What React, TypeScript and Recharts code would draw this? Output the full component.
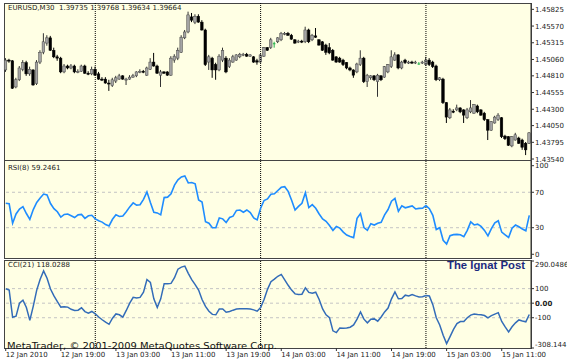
import React from 'react';
import { ComposedChart, Bar, Line, XAxis, YAxis, ReferenceLine } from 'recharts';

// EURUSD M30, 12 Jan 11:00 .. 15 Jan 15:00 (153 bars)
const opens = [
  1.4490, 1.4505, 1.4504, 1.4464, 1.4475, 1.4491, 1.4501, 1.4484, 1.4490, 1.4469,
  1.4502, 1.4517, 1.4531, 1.4539, 1.4520, 1.4510, 1.4508, 1.4487, 1.4496, 1.4493,
  1.4496, 1.4487, 1.4488, 1.4496, 1.4485, 1.4484, 1.4491, 1.4484, 1.4476, 1.4476,
  1.4470, 1.4466, 1.4473, 1.4476, 1.4481, 1.4475, 1.4476, 1.4479, 1.4481, 1.4487,
  1.4488, 1.4482, 1.4491, 1.4502, 1.4496, 1.4482, 1.4487, 1.4487, 1.4482, 1.4505,
  1.4508, 1.4517, 1.4539, 1.4548, 1.4571, 1.4563, 1.4572, 1.4563, 1.4551, 1.4502,
  1.4508, 1.4498, 1.4490, 1.4505, 1.4508, 1.4495, 1.4502, 1.4505, 1.4510, 1.4513,
  1.4514, 1.4511, 1.4510, 1.4504, 1.4502, 1.4511, 1.4524, 1.4524, 1.4530, 1.4533,
  1.4536, 1.4545, 1.4546, 1.4543, 1.4536, 1.4533, 1.4534, 1.4533, 1.4551, 1.4536,
  1.4542, 1.4536, 1.4533, 1.4528, 1.4524, 1.4520, 1.4510, 1.4508, 1.4505, 1.4501,
  1.4493, 1.4490, 1.4487, 1.4498, 1.4508, 1.4472, 1.4478, 1.4481, 1.4472, 1.4481,
  1.4479, 1.4487, 1.4495, 1.4505, 1.4513, 1.4493, 1.4505, 1.4501, 1.4502, 1.4501,
  1.4499, 1.4501, 1.4498, 1.4505, 1.4502, 1.4496, 1.4475, 1.4476, 1.4440, 1.4417,
  1.4427, 1.4429, 1.4432, 1.4429, 1.4417, 1.4426, 1.4424, 1.4435, 1.4429, 1.4424,
  1.4414, 1.4398, 1.4409, 1.4414, 1.4417, 1.4389, 1.4388, 1.4374, 1.4383, 1.4386,
  1.4383, 1.4378, 1.4378,
];
const highs = [
  1.4508, 1.4507, 1.4505, 1.4478, 1.4496, 1.4505, 1.4504, 1.4495, 1.4491, 1.4505,
  1.4520, 1.4546, 1.4543, 1.4542, 1.4524, 1.4513, 1.4510, 1.4499, 1.4498, 1.4499,
  1.4498, 1.4491, 1.4498, 1.4498, 1.4488, 1.4495, 1.4495, 1.4487, 1.4479, 1.4479,
  1.4475, 1.4478, 1.4481, 1.4484, 1.4482, 1.4478, 1.4482, 1.4484, 1.4488, 1.4491,
  1.4490, 1.4495, 1.4508, 1.4516, 1.4498, 1.4490, 1.4488, 1.4488, 1.4511, 1.4514,
  1.4524, 1.4543, 1.4551, 1.4579, 1.4577, 1.4575, 1.4575, 1.4566, 1.4553, 1.4513,
  1.4510, 1.4501, 1.4514, 1.4524, 1.4511, 1.4508, 1.4513, 1.4514, 1.4516, 1.4516,
  1.4516, 1.4514, 1.4511, 1.4507, 1.4514, 1.4525, 1.4525, 1.4539, 1.4533, 1.4540,
  1.4548, 1.4548, 1.4548, 1.4545, 1.4537, 1.4536, 1.4536, 1.4556, 1.4553, 1.4545,
  1.4554, 1.4537, 1.4534, 1.4530, 1.4531, 1.4522, 1.4511, 1.4510, 1.4507, 1.4502,
  1.4495, 1.4491, 1.4501, 1.4520, 1.4510, 1.4484, 1.4482, 1.4482, 1.4484, 1.4482,
  1.4496, 1.4499, 1.4520, 1.4517, 1.4514, 1.4504, 1.4507, 1.4504, 1.4504, 1.4504,
  1.4502, 1.4504, 1.4510, 1.4508, 1.4504, 1.4498, 1.4479, 1.4478, 1.4441, 1.4432,
  1.4430, 1.4437, 1.4433, 1.4430, 1.4432, 1.4444, 1.4438, 1.4437, 1.4430, 1.4426,
  1.4415, 1.4412, 1.4420, 1.4424, 1.4418, 1.4391, 1.4389, 1.4389, 1.4394, 1.4388,
  1.4385, 1.4380, 1.4395,
];
const lows = [
  1.4487, 1.4501, 1.4461, 1.4462, 1.4473, 1.4488, 1.4481, 1.4481, 1.4466, 1.4467,
  1.4499, 1.4514, 1.4527, 1.4519, 1.4508, 1.4504, 1.4485, 1.4485, 1.4491, 1.4491,
  1.4485, 1.4485, 1.4487, 1.4484, 1.4482, 1.4482, 1.4481, 1.4475, 1.4473, 1.4469,
  1.4458, 1.4464, 1.4470, 1.4475, 1.4475, 1.4467, 1.4475, 1.4478, 1.4479, 1.4485,
  1.4485, 1.4481, 1.4490, 1.4495, 1.4484, 1.4464, 1.4484, 1.4481, 1.4481, 1.4501,
  1.4505, 1.4516, 1.4537, 1.4546, 1.4563, 1.4560, 1.4562, 1.4550, 1.4496, 1.4490,
  1.4478, 1.4475, 1.4488, 1.4502, 1.4485, 1.4493, 1.4501, 1.4504, 1.4508, 1.4511,
  1.4510, 1.4510, 1.4501, 1.4498, 1.4501, 1.4510, 1.4519, 1.4522, 1.4524, 1.4531,
  1.4534, 1.4543, 1.4542, 1.4536, 1.4530, 1.4531, 1.4531, 1.4531, 1.4531, 1.4534,
  1.4539, 1.4527, 1.4519, 1.4513, 1.4514, 1.4504, 1.4501, 1.4501, 1.4496, 1.4491,
  1.4488, 1.4478, 1.4485, 1.4496, 1.4470, 1.4464, 1.4475, 1.4473, 1.4449, 1.4473,
  1.4478, 1.4485, 1.4493, 1.4504, 1.4491, 1.4491, 1.4499, 1.4499, 1.4499, 1.4499,
  1.4498, 1.4499, 1.4496, 1.4496, 1.4493, 1.4473, 1.4473, 1.4438, 1.4409, 1.4415,
  1.4424, 1.4427, 1.4424, 1.4409, 1.4415, 1.4424, 1.4423, 1.4424, 1.4420, 1.4412,
  1.4383, 1.4397, 1.4408, 1.4412, 1.4386, 1.4383, 1.4374, 1.4372, 1.4382, 1.4377,
  1.4368, 1.4360, 1.4377,
];
const closes = [
  1.4505, 1.4504, 1.4462, 1.4475, 1.4493, 1.4501, 1.4484, 1.4491, 1.4467, 1.4502,
  1.4517, 1.4533, 1.4539, 1.4520, 1.4510, 1.4508, 1.4487, 1.4496, 1.4493, 1.4496,
  1.4487, 1.4488, 1.4496, 1.4485, 1.4484, 1.4491, 1.4482, 1.4476, 1.4475, 1.4470,
  1.4469, 1.4475, 1.4478, 1.4481, 1.4476, 1.4476, 1.4479, 1.4481, 1.4487, 1.4488,
  1.4487, 1.4493, 1.4502, 1.4496, 1.4485, 1.4487, 1.4485, 1.4482, 1.4508, 1.4511,
  1.4520, 1.4540, 1.4548, 1.4574, 1.4566, 1.4572, 1.4563, 1.4551, 1.4498, 1.4510,
  1.4490, 1.4490, 1.4511, 1.4520, 1.4487, 1.4505, 1.4510, 1.4513, 1.4514, 1.4514,
  1.4511, 1.4513, 1.4502, 1.4502, 1.4513, 1.4524, 1.4520, 1.4536, 1.4530, 1.4539,
  1.4546, 1.4546, 1.4543, 1.4537, 1.4531, 1.4534, 1.4533, 1.4551, 1.4533, 1.4543,
  1.4540, 1.4528, 1.4520, 1.4517, 1.4516, 1.4505, 1.4502, 1.4502, 1.4498, 1.4493,
  1.4490, 1.4482, 1.4499, 1.4508, 1.4472, 1.4482, 1.4481, 1.4475, 1.4482, 1.4475,
  1.4495, 1.4498, 1.4510, 1.4513, 1.4493, 1.4502, 1.4501, 1.4502, 1.4501, 1.4502,
  1.4499, 1.4502, 1.4505, 1.4498, 1.4495, 1.4475, 1.4478, 1.4440, 1.4418, 1.4429,
  1.4426, 1.4432, 1.4426, 1.4421, 1.4429, 1.4432, 1.4437, 1.4426, 1.4421, 1.4414,
  1.4398, 1.4411, 1.4418, 1.4421, 1.4388, 1.4385, 1.4375, 1.4388, 1.4391, 1.4378,
  1.4372, 1.4368, 1.4394,
];
const rsiValues = [
  57.6, 57, 35, 45.5, 51, 53.7, 46, 39.5, 50.5, 58.5,
  63.5, 68, 67, 57.3, 51.5, 48, 42, 45, 45.5, 43.5,
  41.5, 44.5, 45, 40.6, 43.5, 44, 40, 37.8, 36.3, 33.5,
  32, 39.5, 44.5, 42.7, 43.3, 48, 53.5, 58, 55.5, 56,
  62, 70.5, 58.5, 47.4, 46.7, 44.5, 64, 64.5, 68.3, 78,
  84, 87.3, 88.5, 80.5, 81, 79.5, 61.3, 59, 36.7, 35,
  30, 30, 41, 40, 35.8, 41.5, 43, 49.5, 50, 47.4,
  50, 47, 41, 38.8, 52, 60.7, 62.5, 67.7, 68.2, 72,
  75.6, 76.3, 71, 61, 50, 54, 57.5, 69.5, 52.7, 56,
  52, 45.5, 40, 37.3, 32.5, 27, 31.5, 29.5, 25, 21.7,
  20, 18.8, 40.5, 46, 30.2, 27, 34.5, 33, 35, 36.1,
  44.5, 50.5, 60, 63, 48.5, 54.7, 52.5, 53.5, 54.5, 51.2,
  51.8, 51.9, 55, 51.5, 44, 28, 30, 15.8, 11.5, 21,
  22.2, 22.5, 22, 19.8, 27, 36.5, 33.1, 34, 31.5, 27,
  20.7, 29, 35.5, 37.9, 25, 22, 19, 29.5, 33, 31,
  28.5, 26.5, 44,
];
const cciValues = [
  99, 90, -97, -90, 0, 20, -30, -118, -20, 90,
  165, 222, 172, 97, 50, 10, -27, -24, -27, -42,
  -50, -48, -32, -58, -68, -57, -73, -95, -114, -130,
  -145, -103, -74, -80, -96, -50, 0, 40, 35, 40,
  75, 163, 143, 30, -30, 30, 134, 134, 136, 175,
  234, 248, 255, 205, 162, 128, 90, 25, -22, -55,
  -77, -80, -40, -40, -62, -57, -48, -40, -39, -39,
  -39, -40, -46, -55, -30, 25, 95, 148, 165, 185,
  198, 160, 123, 90, 64, 60, 62, 105, 74, 68,
  75, 25, -40, -80, -100, -190, -202, -170, -172, -170,
  -165, -150, -110, -60, -110, -135, -110, -108, -124, -95,
  -60, -34, 30, 78, 30, 32, 55, 50, 60, 50,
  42, 45, 52, 50, -10, -100, -150, -220, -278, -230,
  -180, -140, -126, -126, -100, -82, -74, -78, -80, -85,
  -101, -86, -75, -65, -126, -163, -197, -162, -135, -115,
  -122, -128, -78,
];

const priceTicks = [1.4354, 1.43795, 1.4405, 1.443, 1.44555, 1.4481, 1.4506, 1.45315, 1.4557, 1.45825];
const rsiTicks = [0, 30, 70, 100];
const rsiLevels = [30, 70];
const cciTicks = [-308.144, -100, 0, 100, 290.0486];
const cciLevels = [-100, 0, 100];
const timeTicks = [0, 16, 32, 48, 64, 80, 96, 112, 128, 144];
const timeLabels = [
  '12 Jan 2010', '12 Jan 19:00', '13 Jan 03:00', '13 Jan 11:00', '13 Jan 19:00',
  '14 Jan 03:00', '14 Jan 11:00', '14 Jan 19:00', '15 Jan 03:00', '15 Jan 11:00',
];
const daySeparators = [26, 74, 122];

const BG = '#ffffe4';
const FONT = 'DejaVu Sans, Verdana, sans-serif';
const tickStyle = { fontSize: 7, fill: '#222', fontFamily: FONT };

const data = opens.map((open, i) => ({
  idx: i,
  open,
  high: highs[i],
  low: lows[i],
  close: closes[i],
  rsi: rsiValues[i],
  cci: cciValues[i],
}));

const Candle = (props: any) => {
  const { x, y, width, height, payload } = props;
  if (!payload) return null;
  const { open, close, high, low } = payload;
  const top = Math.min(y, y + height);
  const h = Math.abs(height);
  const k = high > low ? h / (high - low) : 0;
  const py = (v: number) => top + (high - v) * k;
  const cx = x + width / 2;
  const bw = 2.6;
  if (open === close) {
    return (
      <g>
        <line x1={cx} x2={cx} y1={top} y2={top + h} stroke="#22b04a" />
        <line x1={cx - bw / 2} x2={cx + bw / 2} y1={py(open)} y2={py(open)} stroke="#22b04a" />
      </g>
    );
  }
  const up = close > open;
  const bTop = py(Math.max(open, close));
  const bBot = py(Math.min(open, close));
  return (
    <g>
      <line x1={cx} x2={cx} y1={top} y2={top + h} stroke={up ? '#333' : '#000'} strokeWidth={1} />
      <rect
        x={cx - bw / 2}
        y={bTop}
        width={bw}
        height={Math.max(1, bBot - bTop)}
        fill={up ? '#a4a4a4' : '#000'}
        stroke={up ? '#444' : '#000'}
        strokeWidth={0.5}
      />
    </g>
  );
};

const CciTick = (props: any) => {
  const { x, y, payload } = props;
  const v = payload.value;
  let dy = 2.5;
  if (v === cciTicks[cciTicks.length - 1]) dy = 6;
  if (v === cciTicks[0]) dy = -1;
  return (
    <text x={x} y={y + dy} {...tickStyle} fontWeight={v === 0 ? 'bold' : 'normal'}>
      {v === 0 ? '0.00' : String(v)}
    </text>
  );
};

const TimeTick = (props: any) => {
  const { x, y, payload } = props;
  const label = timeLabels[timeTicks.indexOf(payload.value)];
  return (
    <text x={x} y={y + 3.5} {...tickStyle}>{label}</text>
  );
};

const panelBox = (top: number, height: number) => ({
  position: 'absolute' as const,
  left: 4,
  top,
  width: 528,
  height,
  boxSizing: 'border-box' as const,
  border: '1px solid #444',
  background: BG,
});

const App: React.FC = () => {
  return (
    <div style={{ position: 'absolute', left: 0, top: 0, width: 567, height: 360, background: '#fff', overflow: 'hidden' }}>
      <style>{'.recharts-surface{overflow:visible}'}</style>
      <div style={panelBox(3, 158)} />
      <div style={panelBox(160, 99)} />
      <div style={panelBox(259.5, 89)} />

      <div style={{ position: 'absolute', left: 0, top: 3 }}>
        <ComposedChart width={567} height={157} data={data} margin={{ top: 0, right: 0, bottom: 0, left: 4 }} barCategoryGap={0}>
          <XAxis dataKey="idx" hide />
          <YAxis
            orientation="right"
            width={36}
            domain={[1.43525, 1.45922]}
            allowDataOverflow
            ticks={priceTicks}
            interval={0}
            tickFormatter={(v: number) => v.toFixed(5)}
            tick={tickStyle}
            tickSize={3}
            tickMargin={1}
            tickLine={{ stroke: '#333' }}
            axisLine={{ stroke: '#333' }}
          />
          {daySeparators.map((d) => (
            <ReferenceLine key={d} x={d} stroke="#000" strokeDasharray="1 1" />
          ))}
          <Bar dataKey={(d: any) => [d.low, d.high]} shape={<Candle />} isAnimationActive={false} />
        </ComposedChart>
      </div>

      <div style={{ position: 'absolute', left: 0, top: 161 }}>
        <ComposedChart width={567} height={97} data={data} margin={{ top: 0, right: 0, bottom: 0, left: 4 }}>
          <XAxis dataKey="idx" hide scale="band" />
          <YAxis
            orientation="right"
            width={36}
            domain={[-4.2, 105.3]}
            allowDataOverflow
            ticks={rsiTicks}
            interval={0}
            tick={tickStyle}
            tickSize={3}
            tickMargin={1}
            tickLine={{ stroke: '#333' }}
            axisLine={{ stroke: '#333' }}
          />
          {rsiLevels.map((l) => (
            <ReferenceLine key={l} y={l} stroke="#c4c4c4" strokeDasharray="3 3" />
          ))}
          {daySeparators.map((d) => (
            <ReferenceLine key={d} x={d} stroke="#000" strokeDasharray="1 1" />
          ))}
          <Line dataKey="rsi" type="linear" stroke="#1e8cff" strokeWidth={1.6} dot={false} isAnimationActive={false} />
        </ComposedChart>
      </div>

      <div style={{ position: 'absolute', left: 0, top: 260.5 }}>
        <ComposedChart width={567} height={100} data={data} margin={{ top: 0, right: 0, bottom: 0, left: 4 }}>
          <XAxis
            dataKey="idx"
            scale="band"
            ticks={timeTicks}
            interval={0}
            tick={<TimeTick />}
            tickSize={3}
            tickLine={{ stroke: '#333' }}
            axisLine={false}
            height={13}
          />
          <YAxis
            orientation="right"
            width={36}
            domain={[-308.144, 290.0486]}
            allowDataOverflow
            ticks={cciTicks}
            interval={0}
            tick={<CciTick />}
            tickSize={3}
            tickMargin={1}
            tickLine={{ stroke: '#333' }}
            axisLine={{ stroke: '#333' }}
          />
          {cciLevels.map((l) => (
            <ReferenceLine key={l} y={l} stroke="#c4c4c4" strokeDasharray="3 3" />
          ))}
          {daySeparators.map((d) => (
            <ReferenceLine key={d} x={d} stroke="#000" strokeDasharray="1 1" />
          ))}
          <Line dataKey="cci" type="linear" stroke="#336cb8" strokeWidth={1.5} dot={false} isAnimationActive={false} />
        </ComposedChart>
      </div>

      <svg width={567} height={360} style={{ position: 'absolute', left: 0, top: 0, pointerEvents: 'none' }}>
        <text x={8} y={9.5} fontSize={7} fontFamily={FONT} fill="#222" style={{ whiteSpace: 'pre' }}>
          EURUSD,M30  1.39735 1.39768 1.39634 1.39664
        </text>
        <text x={8} y={170} fontSize={7} fontFamily={FONT} fill="#222">RSI(8) 59.2461</text>
        <text x={8} y={267} fontSize={7} fontFamily={FONT} fill="#222">CCI(21) 118.0288</text>
        <text x={447} y={269} fontSize={10.5} fontWeight="bold" fontFamily="Liberation Sans, Arial, sans-serif" fill="#1c2a80" textLength={78} lengthAdjust="spacingAndGlyphs">
          The Ignat Post
        </text>
        <text x={7} y={349} fontSize={9.5} fontFamily={FONT} fill="#111" textLength={270} lengthAdjust="spacingAndGlyphs">
          MetaTrader, © 2001-2009 MetaQuotes Software Corp.
        </text>
      </svg>
    </div>
  );
};

export default App;
